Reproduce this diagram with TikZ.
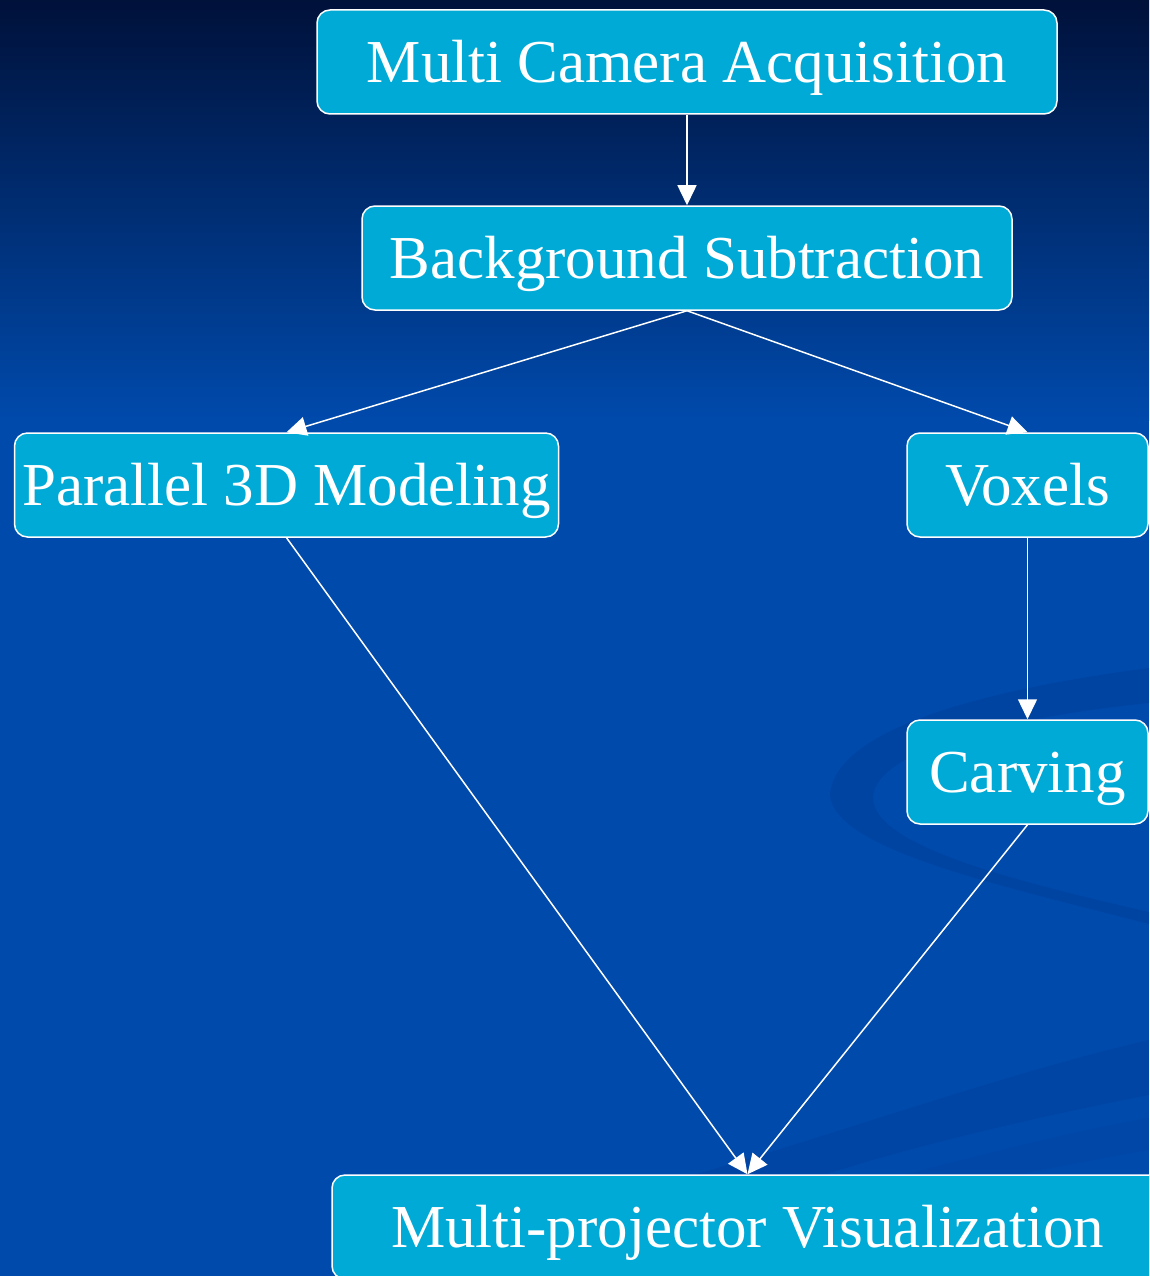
\documentclass[tikz,border=0pt]{standalone}
\usepackage{fontspec}
\setmainfont{Liberation Serif}
\usetikzlibrary{arrows.meta}
\definecolor{bgtop}{HTML}{00113A}
\definecolor{bgblue}{HTML}{004AAC}
\definecolor{boxfill}{HTML}{00AAD6}
\definecolor{swoosh}{HTML}{003D98}
\tikzset{
  stage/.style={draw=white, line width=1.5pt, fill=boxfill, rounded corners=13pt,
    text=white, font=\fontsize{61}{72}\selectfont, text height=40.4pt, text depth=0pt,
    inner sep=0pt, minimum height=104pt},
  flow/.style={draw=white, line width=1.5pt, -{Triangle[length=20pt,width=19pt]}},
  band/.style={fill=swoosh, fill opacity=0.45, draw=none},
}
\begin{document}
\begin{tikzpicture}[x=1pt, y=-1pt]
  \useasboundingbox (0,0) rectangle (1149,1276);
  \begin{scope}
    \clip (0,0) rectangle (1149,1276);
    % background
    \shade[top color=bgtop, bottom color=bgblue] (0,0) rectangle (1149,420);
    \fill[bgblue] (0,419) rectangle (1149,1276);
    % decorative swooshes
    \fill[band] (1149,668) .. controls (980,690) and (835,730) .. (830,795)
      .. controls (835,850) and (1000,885) .. (1149,924) -- (1149,912)
      .. controls (1010,880) and (872,845) .. (873,797)
      .. controls (875,752) and (1000,718) .. (1149,703) -- cycle;
    \fill[band, fill opacity=0.38] (690,1176) .. controls (850,1130) and (1000,1075) .. (1149,1040)
      -- (1149,1095) .. controls (1020,1120) and (900,1150) .. (820,1176) -- cycle;
    \fill[band, fill opacity=0.22] (900,1176) .. controls (1000,1150) and (1080,1130) .. (1149,1118)
      -- (1149,1150) .. controls (1090,1160) and (1040,1170) .. (1010,1176) -- cycle;

    % stages
    \node[stage, minimum width=740pt] (mca) at (687,62) {Multi Camera Acquisition};
    \node[stage, minimum width=650pt] (bgs) at (687,258) {Background Subtraction};
    \node[stage, minimum width=544pt] (p3d) at (286.5,485) {Parallel 3D Modeling};
    \node[stage, minimum width=241pt] (vox) at (1027.5,485) {Voxels};
    \node[stage, minimum width=241pt] (carv) at (1027.5,772) {Carving};
    \node[stage, minimum width=831pt] (mpv) at (747.5,1227) {Multi-projector Visualization};

    % connectors
    \draw[flow] (mca.south) -- (bgs.north);
    \draw[flow] (bgs.south) -- (p3d.north);
    \draw[flow] (bgs.south) -- (vox.north);
    \draw[flow] (vox.south) -- (carv.north);
    \draw[flow] (p3d.south) -- (mpv.north);
    \draw[flow] (carv.south) -- (mpv.north);
  \end{scope}
\end{tikzpicture}
\end{document}
